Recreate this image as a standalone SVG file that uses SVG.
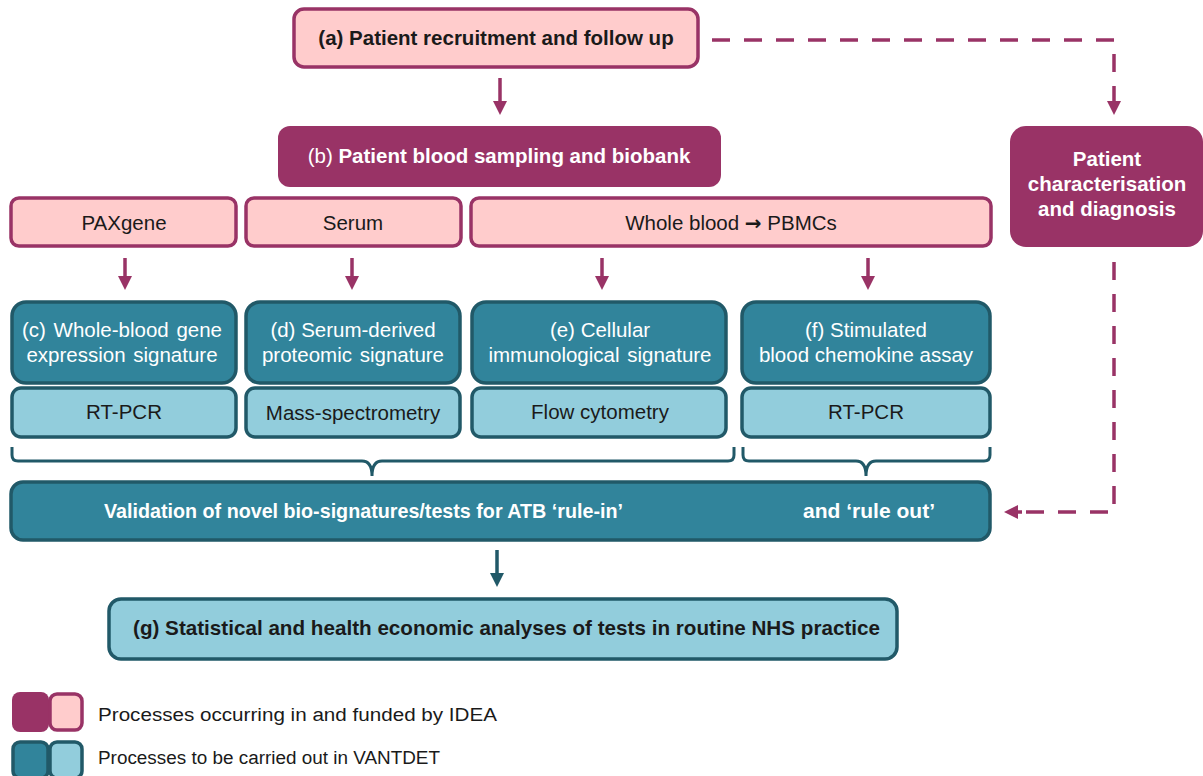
<svg xmlns="http://www.w3.org/2000/svg" width="1203" height="776" viewBox="0 0 1203 776">
  <defs>
    <marker id="arrP" markerWidth="4" markerHeight="4" refX="2" refY="2" orient="auto" markerUnits="strokeWidth">
      <path d="M0,0 L4,2 L0,4 z" fill="#993366"/>
    </marker>
    <marker id="arrT" markerWidth="4" markerHeight="4" refX="2" refY="2" orient="auto" markerUnits="strokeWidth">
      <path d="M0,0 L4,2 L0,4 z" fill="#215968"/>
    </marker>
    <style>
      text { font-family: "Liberation Sans", Arial, sans-serif; }
      .pinkBox { fill: #FFCCCC; stroke: #993366; stroke-width: 3.5; }
      .purpleBox { fill: #993366; stroke: none; }
      .tealBox { fill: #31849B; stroke: #215968; stroke-width: 3.5; }
      .lightBox { fill: #92CDDC; stroke: #215968; stroke-width: 3.5; }
      .lbl { font-size: 20.5px; fill: #1a1a1a; text-anchor: middle; }
      .lblW { font-size: 20.5px; fill: #ffffff; text-anchor: middle; }
      .lblWs { font-size: 20.5px; fill: #ffffff; }
      .lbls { font-size: 20.5px; fill: #1a1a1a; }
      .bold { font-weight: bold; }
      .arrP { stroke: #993366; stroke-width: 3.5; fill: none; marker-end: url(#arrP); }
      .arrT { stroke: #215968; stroke-width: 3.5; fill: none; marker-end: url(#arrT); }
      .dash { stroke: #993366; stroke-width: 3.5; fill: none; stroke-dasharray: 18 14; }
      .brace { stroke: #215968; stroke-width: 3; fill: none; }
      .legend { font-size: 18px; fill: #1a1a1a; }
    </style>
  </defs>

  <!-- connectors -->
  <g id="connectors">
    <line class="arrP" x1="500" y1="78" x2="500" y2="108"/>
    <line class="arrP" x1="125" y1="258" x2="125" y2="283"/>
    <line class="arrP" x1="352" y1="258" x2="352" y2="283"/>
    <line class="arrP" x1="602" y1="258" x2="602" y2="283"/>
    <line class="arrP" x1="868" y1="258" x2="868" y2="283"/>
    <line class="arrT" x1="497" y1="550" x2="497" y2="580"/>
    <!-- dashed route from recruitment to characterisation -->
    <path class="dash" d="M712,40 H1114 V96"/>
    <line class="arrP" x1="1114" y1="96" x2="1114" y2="108"/>
    <!-- dashed route from characterisation to validation -->
    <path class="dash" d="M1114,262 V512 H1022"/>
    <line class="arrP" x1="1022" y1="512" x2="1011" y2="512"/>
    <!-- braces -->
    <path class="brace" d="M12,447 V455 Q12,461 18,461 H362 Q372,461 372,476 Q372,461 382,461 H728 Q734,461 734,455 V447"/>
    <path class="brace" d="M743,447 V455 Q743,461 749,461 H856 Q866,461 866,476 Q866,461 876,461 H984 Q990,461 990,455 V447"/>
  </g>

  <!-- (a) recruitment -->
  <g id="node-a">
    <rect class="pinkBox" x="294" y="9" width="404" height="58" rx="10"/>
    <text class="lbl bold" x="496" y="45">(a) Patient recruitment and follow up</text>
  </g>

  <!-- (b) blood sampling -->
  <g id="node-b">
    <rect class="purpleBox" x="278" y="126" width="443" height="61" rx="12"/>
    <text class="lblW" x="499" y="163"><tspan>(b) </tspan><tspan class="bold">Patient blood sampling and biobank</tspan></text>
  </g>

  <!-- characterisation -->
  <g id="node-char">
    <rect class="purpleBox" x="1010" y="126" width="193" height="121" rx="16"/>
    <text class="lblW bold" x="1107" y="166">Patient</text>
    <text class="lblW bold" x="1107" y="191">characterisation</text>
    <text class="lblW bold" x="1107" y="216">and diagnosis</text>
  </g>

  <!-- sample types -->
  <g id="node-paxgene">
    <rect class="pinkBox" x="11" y="198" width="225" height="48" rx="8"/>
    <text class="lbl" x="124" y="230">PAXgene</text>
  </g>
  <g id="node-serum">
    <rect class="pinkBox" x="246" y="198" width="215" height="48" rx="8"/>
    <text class="lbl" x="353" y="230">Serum</text>
  </g>
  <g id="node-wholeblood">
    <rect class="pinkBox" x="471" y="198" width="520" height="48" rx="8"/>
    <text class="lbl" x="731" y="230">Whole blood <tspan font-family="'DejaVu Sans', sans-serif" font-size="20px" font-weight="bold">→</tspan> PBMCs</text>
  </g>

  <!-- signatures -->
  <g id="node-c">
    <rect class="tealBox" x="12" y="302" width="224" height="81" rx="14"/>
    <text class="lblW" x="122" y="337" word-spacing="2">(c) Whole-blood gene</text>
    <text class="lblW" x="122" y="362" word-spacing="2">expression signature</text>
    <rect class="lightBox" x="12" y="388" width="224" height="49" rx="9"/>
    <text class="lbl" x="124" y="419">RT-PCR</text>
  </g>
  <g id="node-d">
    <rect class="tealBox" x="246" y="302" width="214" height="81" rx="14"/>
    <text class="lblW" x="353" y="337">(d) Serum-derived</text>
    <text class="lblW" x="353" y="362" word-spacing="2">proteomic signature</text>
    <rect class="lightBox" x="246" y="388" width="214" height="49" rx="9"/>
    <text class="lbl" x="353" y="420">Mass-spectrometry</text>
  </g>
  <g id="node-e">
    <rect class="tealBox" x="472" y="302" width="254" height="81" rx="14"/>
    <text class="lblW" x="600" y="337">(e) Cellular</text>
    <text class="lblW" x="600" y="362" word-spacing="2">immunological signature</text>
    <rect class="lightBox" x="472" y="388" width="254" height="49" rx="9"/>
    <text class="lbl" x="600" y="419">Flow cytometry</text>
  </g>
  <g id="node-f">
    <rect class="tealBox" x="742" y="302" width="248" height="81" rx="14"/>
    <text class="lblW" x="866" y="337">(f) Stimulated</text>
    <text class="lblW" x="866" y="362">blood chemokine assay</text>
    <rect class="lightBox" x="742" y="388" width="248" height="49" rx="9"/>
    <text class="lbl" x="866" y="419">RT-PCR</text>
  </g>

  <!-- validation -->
  <g id="node-validation">
    <rect class="tealBox" x="11" y="482" width="979" height="58" rx="12"/>
    <text class="lblWs bold" x="104" y="518" textLength="519" lengthAdjust="spacingAndGlyphs">Validation of novel bio-signatures/tests  for ATB ‘rule-in’</text>
    <text class="lblWs bold" x="803" y="518" textLength="132" lengthAdjust="spacingAndGlyphs">and ‘rule out’</text>
  </g>

  <!-- (g) analyses -->
  <g id="node-g">
    <rect class="lightBox" x="109" y="599" width="788" height="60" rx="12"/>
    <text class="lbls bold" x="133" y="635" textLength="747" lengthAdjust="spacingAndGlyphs">(g) Statistical and health economic analyses of tests in routine NHS practice</text>
  </g>

  <!-- legend -->
  <g id="legend-idea">
    <rect x="12" y="692" width="37" height="40" rx="8" fill="#993366"/>
    <rect x="50" y="694" width="32" height="36" rx="7" fill="#FFCCCC" stroke="#993366" stroke-width="3.5"/>
    <text class="legend" x="98" y="721" textLength="399" lengthAdjust="spacingAndGlyphs">Processes occurring in and funded by IDEA</text>
  </g>
  <g id="legend-vantdet">
    <rect x="13" y="742" width="35" height="36" rx="7" fill="#31849B" stroke="#215968" stroke-width="3.5"/>
    <rect x="50" y="742" width="32" height="36" rx="7" fill="#92CDDC" stroke="#215968" stroke-width="3.5"/>
    <text class="legend" x="98" y="764" textLength="342" lengthAdjust="spacingAndGlyphs">Processes to be carried out in VANTDET</text>
  </g>
</svg>
